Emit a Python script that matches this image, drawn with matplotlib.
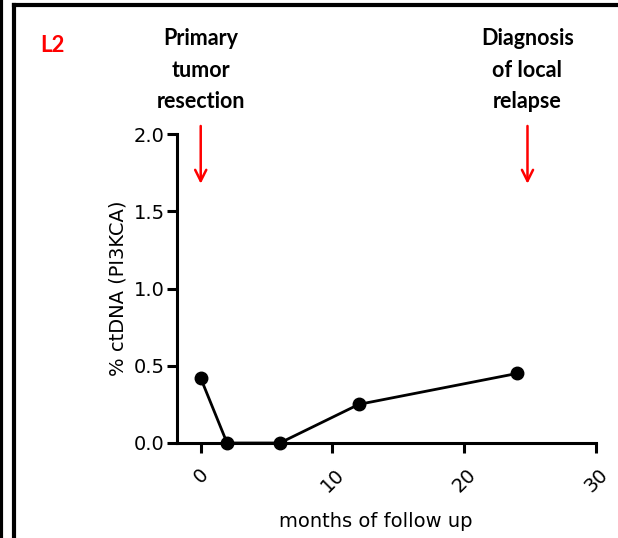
import matplotlib
matplotlib.use("Agg")
import matplotlib.pyplot as plt
from matplotlib.lines import Line2D

plt.rcParams["font.family"] = ["DejaVu Sans"]

# follow-up samples for patient L2
months = [0, 2, 6, 12, 24]
ctdna = [0.42, 0.0, 0.0, 0.25, 0.45]
xticks = [0, 10, 20, 30]
yticks = [0.0, 0.5, 1.0, 1.5, 2.0]
events = [(0, "Primary\ntumor\nresection"), (24.8, "Diagnosis\nof local\nrelapse")]

W, H = 618, 538
fig = plt.figure(figsize=(W / 100, H / 100), dpi=100)
ax = fig.add_axes([177 / W, 1 - 443 / H, (596 - 177) / W, (443 - 134) / H])

ax.plot(months, ctdna, color="black", lw=2.0, marker="o", ms=9, zorder=3, clip_on=False)

ax.set_xlim(-1.8, 30)
ax.set_ylim(0, 2.0)
ax.set_xticks(xticks)
ax.set_yticks(yticks)
ax.set_yticklabels([f"{v:.1f}" for v in yticks])
for s in ("top", "right"):
    ax.spines[s].set_visible(False)
for s in ("left", "bottom"):
    ax.spines[s].set_linewidth(2.2)
ax.tick_params(width=2.2, length=7, labelsize=14, direction="out")
ax.tick_params(axis="y", pad=2)
ax.tick_params(axis="x", pad=9)
for lab in ax.get_xticklabels():
    lab.set_rotation(45)
    lab.set_ha("center")
    lab.set_va("top")
ax.set_xlabel("months of follow up", fontsize=14)
ax.xaxis.set_label_coords(0.475, -0.222)
ax.set_ylabel("% ctDNA (PI3KCA)", fontsize=14, labelpad=4)

# event markers above the plot
for x, txt in events:
    ax.annotate("", xy=(x, 1.66), xytext=(x, 2.07), xycoords="data",
                arrowprops=dict(arrowstyle="->", color="red", lw=1.8, mutation_scale=20),
                annotation_clip=False)
    fx = ax.transData.transform((x, 0))[0] / W
    fig.text(fx, 1 - 28 / H, txt, ha="center", va="top", fontsize=15.5,
             fontweight="bold", linespacing=1.62, family=["Lato", "DejaVu Sans"])

fig.text(40 / W, 1 - 46 / H, "L2", color="red", fontsize=16, fontweight="bold",
         va="center", family=["Lato", "DejaVu Sans"])

# panel frame
fig.add_artist(Line2D([13.5 / W, 1], [1 - 4.5 / H] * 2, color="black", lw=3))
fig.add_artist(Line2D([13.5 / W] * 2, [0, 1 - 4.5 / H], color="black", lw=3))
fig.add_artist(Line2D([1.5 / W] * 2, [0, 1], color="black", lw=3))

fig.savefig("out.png", dpi=100, facecolor="white")
